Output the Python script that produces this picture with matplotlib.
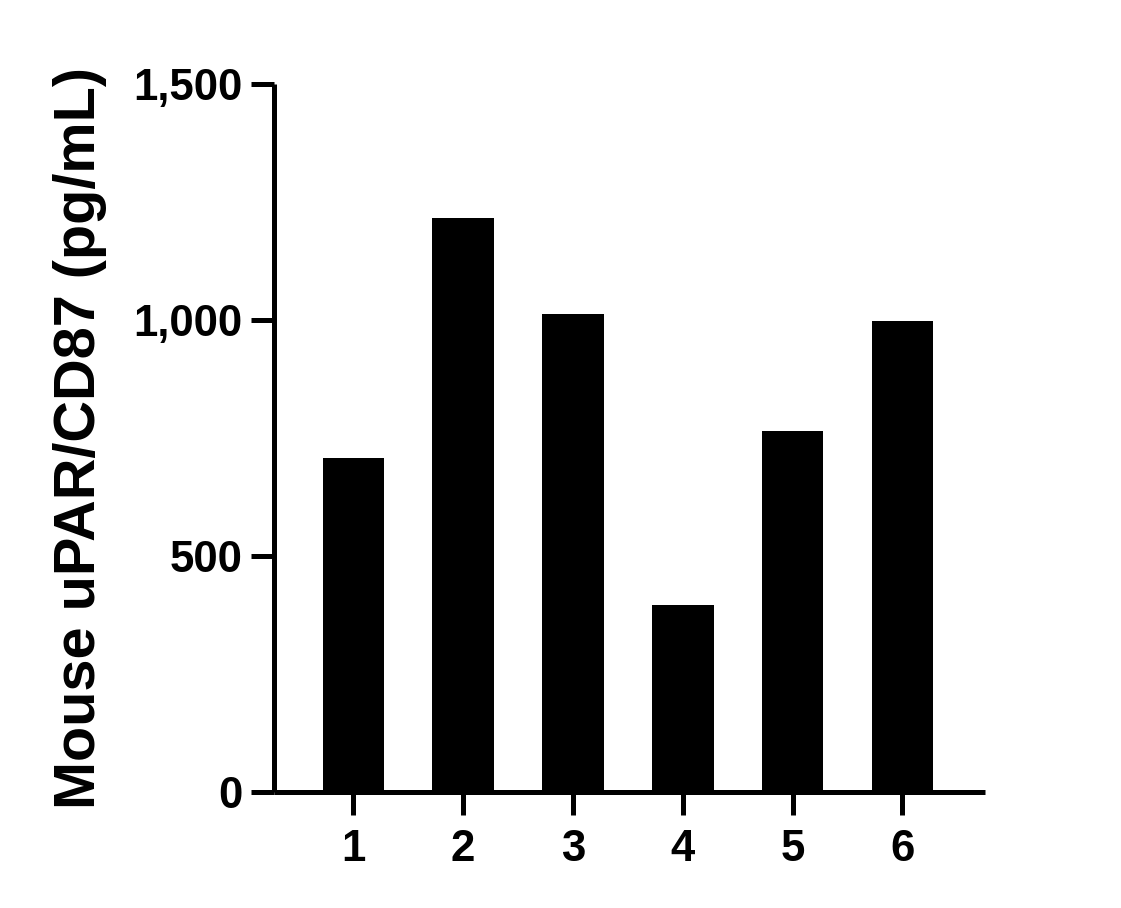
import matplotlib
matplotlib.use("Agg")
import matplotlib.pyplot as plt
from matplotlib.ticker import FuncFormatter

categories = ["1", "2", "3", "4", "5", "6"]
values = [708, 1216, 1013, 396, 765, 998]
y_ticks = [0, 500, 1000, 1500]
y_label = "Mouse uPAR/CD87 (pg/mL)"

plt.rcParams['font.family'] = ['Liberation Sans', 'DejaVu Sans']
plt.rcParams['font.weight'] = 'bold'

fig = plt.figure(figsize=(11.21, 9.08), dpi=100)
ax = fig.add_axes([0.2444, 0.1278, 0.8787 - 0.2444, 0.9075 - 0.1278])

x = list(range(1, len(categories) + 1))
ax.bar(x, values, width=0.56, color='black', zorder=2)

ax.set_xlim(0.277, 6.752)
ax.set_ylim(0, 1500)
ax.set_xticks(x)
ax.set_xticklabels(categories)
ax.set_yticks(y_ticks)
ax.yaxis.set_major_formatter(FuncFormatter(lambda v, p: f"{int(v):,}"))

for s in ['top', 'right']:
    ax.spines[s].set_visible(False)
for s in ['left', 'bottom']:
    ax.spines[s].set_linewidth(3.6)
    ax.spines[s].set_capstyle('butt')

ax.tick_params(axis='both', direction='out', length=16.5, width=3.6, labelsize=31.5)
ax.tick_params(axis='y', pad=6)
ax.tick_params(axis='x', pad=10)
for lab in ax.get_xticklabels() + ax.get_yticklabels():
    lab.set_fontweight('bold')

ax.set_ylabel(y_label, fontsize=41.5, fontweight='bold', labelpad=19)

fig.savefig("out.png", dpi=100, facecolor='white')
